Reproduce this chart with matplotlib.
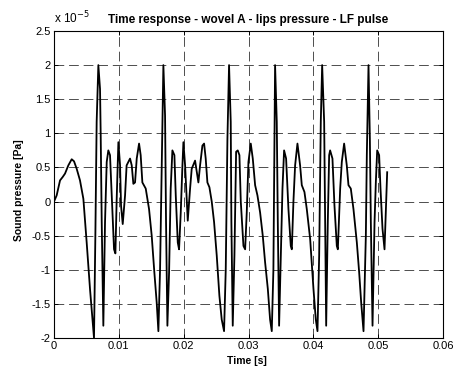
import matplotlib
matplotlib.use("Agg")
import matplotlib.pyplot as plt
from matplotlib.ticker import FixedLocator, FixedFormatter

plt.rcParams['font.family'] = ['Liberation Sans', 'DejaVu Sans']
plt.rcParams['lines.scale_dashes'] = False

# time in milliseconds, pressure in units of 1e-5 Pa
time_ms = [
    0.0, 0.41, 0.93, 1.34, 1.70, 2.21, 2.73, 3.09, 3.50, 4.01, 4.53, 5.04, 5.56, 5.97, 6.17,
    6.38, 6.58, 6.84, 7.10, 7.20, 7.36, 7.61, 7.87, 8.13, 8.38, 8.64, 8.90, 9.26, 9.47, 9.67,
    9.93, 10.19, 10.34, 10.60, 10.96, 11.20, 11.73, 11.99, 12.24, 12.50, 12.76, 13.12, 13.37,
    13.63, 14.15, 14.66, 15.07, 15.48, 15.84, 16.10, 16.36, 16.62, 16.87,
    17.13, 17.28, 17.49, 17.75, 18.00, 18.26, 18.57, 18.78, 19.09, 19.29, 19.55, 19.81, 19.96,
    20.22, 20.47, 20.63, 20.99, 21.24, 21.76, 22.27, 22.53, 22.89, 23.15, 23.40, 23.66, 23.97,
    24.33, 24.69, 25.10, 25.51, 25.87, 26.23, 26.49, 26.75, 27.00,
    27.26, 27.36, 27.57, 27.83, 28.09, 28.34, 28.60, 28.81, 29.22, 29.48, 29.73, 29.99, 30.35,
    30.66, 31.02, 31.38, 31.79, 32.20, 32.56, 32.98, 33.33, 33.59, 33.84, 34.10,
    34.36, 34.52, 34.72, 34.98, 35.24, 35.49, 35.80, 36.16, 36.52, 36.68, 36.93, 37.19, 37.55,
    37.96, 38.22, 38.63, 38.99, 39.51, 40.02, 40.38, 40.64, 40.90, 41.15, 41.36,
    41.67, 41.82, 41.98, 42.23, 42.44, 42.59, 42.95, 43.26, 43.62, 43.78, 44.14, 44.39, 44.75,
    45.16, 45.42, 45.78, 46.19, 46.71, 47.07, 47.38, 47.74, 48.10, 48.25, 48.51,
    48.72, 48.87, 49.13, 49.44, 49.64, 49.85, 50.15, 50.36, 50.67, 50.98, 51.13, 51.28, 51.39,
]
pressure = [
    0.0, 0.09, 0.31, 0.36, 0.41, 0.53, 0.62, 0.59, 0.48, 0.31, 0.04, -0.60, -1.29, -1.78, -2.0,
    -0.50, 1.17, 2.0, 1.65, 1.0, -0.30, -1.82, -0.30, 0.58, 0.75, 0.68, 0.10, -0.70, -0.76, 0.04,
    0.87, 0.53, -0.06, -0.33, 0.09, 0.53, 0.63, 0.53, 0.26, 0.28, 0.63, 0.85, 0.68,
    0.28, 0.19, -0.11, -0.50, -1.04, -1.48, -1.90, -0.99, 0.53, 2.0,
    1.26, -0.30, -1.82, -1.04, 0.19, 0.75, 0.68, 0.09, -0.60, -0.70, -0.16, 0.53, 0.87,
    0.53, 0.04, -0.28, 0.19, 0.48, 0.60, 0.28, 0.53, 0.82, 0.85, 0.63, 0.28, 0.21,
    0.0, -0.30, -0.79, -1.38, -1.73, -1.90, -1.0, 0.92, 2.0,
    1.17, -0.30, -1.82, -0.79, 0.73, 0.75, 0.68, 0.0, -0.65, -0.70, -0.16, 0.58, 0.85,
    0.63, 0.24, 0.09, -0.16, -0.50, -0.89, -1.28, -1.73, -1.90, -1.0, 2.0,
    1.17, -0.30, -1.82, -0.79, 0.19, 0.75, 0.63, -0.11, -0.65, -0.70, 0.0, 0.53, 0.85,
    0.53, 0.24, 0.14, -0.11, -0.55, -1.28, -1.73, -1.90, -0.79, 1.17, 2.0,
    1.17, -0.30, -1.82, -0.30, 0.68, 0.75, 0.63, -0.06, -0.65, -0.70, 0.19, 0.58, 0.85,
    0.53, 0.24, 0.19, -0.11, -0.60, -1.04, -1.48, -1.90, -0.50, 0.68, 2.0,
    0.92, -0.30, -1.82, -0.30, 0.28, 0.75, 0.68, 0.19, -0.40, -0.70, -0.30, 0.09, 0.43,
]

x_ticks = [0, 0.01, 0.02, 0.03, 0.04, 0.05, 0.06]
x_tick_labels = ['0', '0.01', '0.02', '0.03', '0.04', '0.05', '0.06']
y_ticks = [-2, -1.5, -1, -0.5, 0, 0.5, 1, 1.5, 2, 2.5]
y_tick_labels = ['-2', '-1.5', '-1', '-0.5', '0', '0.5', '1', '1.5', '2', '2.5']

title = 'Time response - wovel A - lips pressure - LF pulse'
xlabel = 'Time [s]'
ylabel = 'Sound pressure [Pa]'

fig = plt.figure(figsize=(4.56, 3.69), dpi=100)
ax = fig.add_axes([54/456, 1-338/369, (443-54)/456, (338-31)/369])

t_s = [v * 1e-3 for v in time_ms]
ax.plot(t_s, pressure, color='black', lw=1.3, solid_joinstyle='round', zorder=3)

ax.set_xlim(0, 0.06)
ax.set_ylim(-2, 2.5)
ax.xaxis.set_major_locator(FixedLocator(x_ticks))
ax.xaxis.set_major_formatter(FixedFormatter(x_tick_labels))
ax.yaxis.set_major_locator(FixedLocator(y_ticks))
ax.yaxis.set_major_formatter(FixedFormatter(y_tick_labels))

ax.tick_params(direction='in', length=3, width=0.7, labelsize=8, pad=2.5,
               top=True, right=True, colors='black')
ax.grid(True, color='0.3', lw=0.7, linestyle=(0, (7, 3.5)))
for s in ax.spines.values():
    s.set_linewidth(0.8)
    s.set_color('black')

ax.set_title(title, fontsize=8.5, fontweight='bold', pad=6)
ax.set_xlabel(xlabel, fontsize=7.5, fontweight='bold')
ax.set_ylabel(ylabel, fontsize=7.5, fontweight='bold')
ax.xaxis.set_label_coords(0.496, -18.5/307, transform=ax.transAxes)
ax.xaxis.label.set_va('top')
ax.yaxis.set_label_coords(-35/389, 0.482, transform=ax.transAxes)
ax.yaxis.label.set_va('center')
ax.text(0.0, 1.015, 'x 10$^{-5}$', transform=ax.transAxes, fontsize=8.5,
        ha='left', va='bottom')

fig.savefig('out.png', dpi=100)
